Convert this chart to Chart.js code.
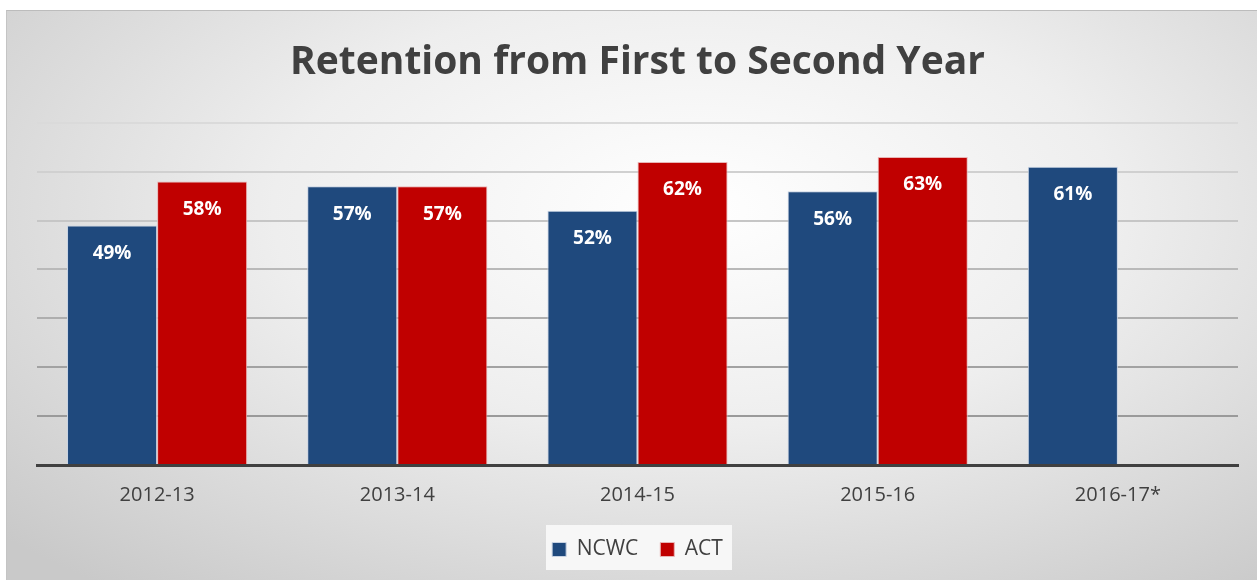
<!DOCTYPE html>
<html>
<head>
<meta charset="utf-8">
<script src="https://cdn.jsdelivr.net/npm/chart.js@4"></script>
<style>
    html, body { margin: 0; padding: 0; background: #fff; }
    #frame {
        position: absolute; left: 6px; top: 10px; width: 1251px; height: 570px;
        border-top: 1px solid #bcbcbc; border-left: 1px solid #c4c4c4;
        box-sizing: border-box;
        background: radial-gradient(ellipse 75% 85% at 55% 35%, #ffffff 0%, #eeeeee 45%, #c9c9c9 100%);
    }
    #chart { display: block; }
</style>
</head>
<body>
<div id="frame"><canvas id="chart" width="1250" height="569"></canvas></div>
<script>
// 数据
const years = ['2012-13', '2013-14', '2014-15', '2015-16', '2016-17*'];
const ncwc = [49, 57, 52, 56, 61];
const act = [58, 57, 62, 63, null];
const yTicks = [0, 10, 20, 30, 40, 50, 60, 70];

// 网格线颜色：越往下越深
const gridColors = {
    0: 'rgba(0,0,0,0)', 10: '#9a9a9a', 20: '#a2a2a2', 30: '#aeaeae',
    40: '#b9b9b9', 50: '#c6c6c6', 60: '#d0d0d0', 70: '#dadada'
};

// 柱内白色数值标签
const barLabels = {
    id: 'barLabels',
    afterDatasetsDraw(chart) {
        const ctx = chart.ctx;
        ctx.save();
        ctx.fillStyle = '#ffffff';
        ctx.font = 'bold 19px "Open Sans", sans-serif';
        ctx.textAlign = 'center';
        ctx.textBaseline = 'middle';
        chart.data.datasets.forEach((ds, i) => {
            chart.getDatasetMeta(i).data.forEach((bar, j) => {
                if (ds.data[j] == null) return;
                ctx.fillText(ds.data[j] + '%', bar.x, bar.y + 28);
            });
        });
        ctx.restore();
    }
};

// 图例背景框
const legendBox = {
    id: 'legendBox',
    beforeDraw(chart) {
        const ctx = chart.ctx;
        ctx.save();
        ctx.fillStyle = 'rgba(250,250,250,0.9)';
        ctx.fillRect(539, 514, 186, 45);
        ctx.restore();
    }
};

new Chart(document.getElementById('chart').getContext('2d'), {
    type: 'bar',
    data: {
        labels: years,
        datasets: [
            { label: 'NCWC', data: ncwc, backgroundColor: '#1f497d', borderColor: '#c8d3e3', borderWidth: 1 },
            { label: 'ACT', data: act, backgroundColor: '#c00000', borderColor: '#e8b5b5', borderWidth: 1 }
        ]
    },
    options: {
        responsive: false,
        animation: false,
        layout: { padding: { left: 30, right: 19, top: 0, bottom: 10 } },
        datasets: { bar: { categoryPercentage: 0.75, barPercentage: 1.0 } },
        plugins: {
            title: {
                display: true,
                text: 'Retention from First to Second Year',
                color: '#404040',
                font: { family: '"Open Sans", sans-serif', size: 39, weight: 'bold' },
                padding: { top: 28, bottom: 37 }
            },
            legend: {
                display: true,
                position: 'bottom',
                labels: {
                    color: '#404040',
                    font: { family: '"Open Sans", sans-serif', size: 21 },
                    boxWidth: 14, boxHeight: 14, padding: 22
                }
            },
            tooltip: { enabled: false }
        },
        scales: {
            y: {
                min: 0, max: 70,
                afterBuildTicks(axis) { axis.ticks = yTicks.map(v => ({ value: v })); },
                ticks: { display: false },
                border: { display: false },
                grid: {
                    color: c => gridColors[c.tick.value],
                    lineWidth: 2,
                    drawTicks: false
                }
            },
            x: {
                grid: { display: false },
                border: { display: true, color: '#404040', width: 3 },
                ticks: {
                    color: '#404040',
                    font: { family: '"Open Sans", sans-serif', size: 20 },
                    padding: 10
                }
            }
        }
    },
    plugins: [barLabels, legendBox]
});
</script>
</body>
</html>
